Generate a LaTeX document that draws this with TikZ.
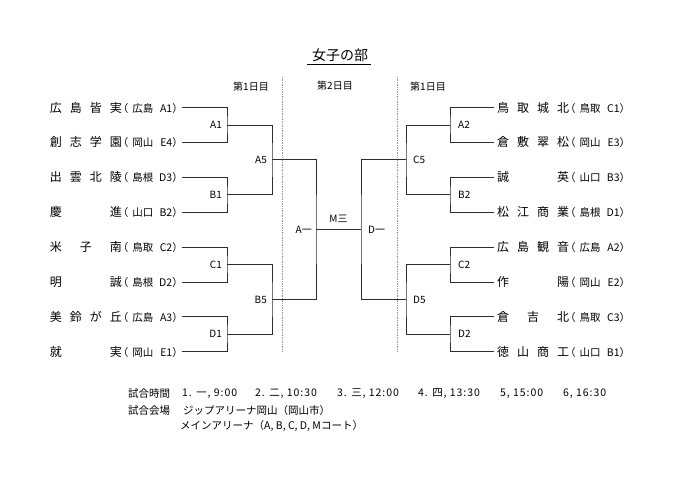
\documentclass[tikz,border=0pt]{standalone}
\usepackage{fontspec}
\setmainfont{Noto Sans CJK JP}
\newfontfamily\timefont[LetterSpace=9]{Noto Sans CJK JP}
\usepackage{tikz}
\usetikzlibrary{positioning, calc}
\definecolor{linegray}{RGB}{45,45,45}
\definecolor{dotgray}{RGB}{150,150,150}
\tikzstyle{bracket} = [linegray, line width=0.9pt]
\tikzstyle{daysep} = [dotgray, line width=0.7pt, densely dotted]
\tikzset{
  team/.style={inner xsep=3pt, inner ysep=0pt, font=\fontsize{12}{13}\selectfont},
  lbl/.style={inner sep=0pt, font=\fontsize{10}{11}\selectfont},
  day/.style={inner sep=0pt, font=\fontsize{10}{11}\selectfont},
  note/.style={inner sep=0pt, anchor=west, font=\fontsize{10.5}{12}\selectfont},
}
\newcommand{\school}[3]{\makebox[72pt][s]{#1}\makebox[57pt][s]{\fontsize{10.5}{11}\selectfont\kern-4pt（\kern4pt #2\hfill #3）\kern-4pt}}

\begin{document}
\begin{tikzpicture}[x=1pt, y=-1pt]
        \useasboundingbox (0,0) rectangle (680,481);
        % title
        \node[inner sep=0pt, font=\fontsize{14}{16}\selectfont] (title) at (340,55) {女子の部};
        \draw[line width=0.8pt] ([xshift=-5pt, yshift=-3pt]title.south west) -- ([xshift=3pt, yshift=-3pt]title.south east);
        \node[day] (dayL) at (251,87) {第1日目};
        \node[day] (dayM) at (335,86) {第2日目};
        \node[day] (dayR) at (428,87) {第1日目};
        % day separators
        \coordinate (sepLt) at (282,77);
        \coordinate (sepLb) at (282,352);
        \coordinate (sepRt) at (397,77);
        \coordinate (sepRb) at (397,352);
        \draw[daysep] (sepLt) -- (sepLb);
        \draw[daysep] (sepRt) -- (sepRb);
        % left teams
        \node[team, anchor=east] (tL1) at (182,107.5) {\school{広\hfill 島\hfill 皆\hfill 実}{広島}{A1}};
        \node[team, anchor=east] (tL2) at (182,142.4) {\school{創\hfill 志\hfill 学\hfill 園}{岡山}{E4}};
        \node[team, anchor=east] (tL3) at (182,177.3) {\school{出\hfill 雲\hfill 北\hfill 陵}{島根}{D3}};
        \node[team, anchor=east] (tL4) at (182,212.2) {\school{慶\hfill 進}{山口}{B2}};
        \node[team, anchor=east] (tL5) at (182,247.1) {\school{米\hfill 子\hfill 南}{鳥取}{C2}};
        \node[team, anchor=east] (tL6) at (182,282.0) {\school{明\hfill 誠}{島根}{D2}};
        \node[team, anchor=east] (tL7) at (182,316.9) {\school{美\hfill 鈴\hfill が\hfill 丘}{広島}{A3}};
        \node[team, anchor=east] (tL8) at (182,351.8) {\school{就\hfill 実}{岡山}{E1}};
        % right teams
        \node[team, anchor=west] (tR1) at (494,107.5) {\school{鳥\hfill 取\hfill 城\hfill 北}{鳥取}{C1}};
        \node[team, anchor=west] (tR2) at (494,142.4) {\school{倉\hfill 敷\hfill 翠\hfill 松}{岡山}{E3}};
        \node[team, anchor=west] (tR3) at (494,177.3) {\school{誠\hfill 英}{山口}{B3}};
        \node[team, anchor=west] (tR4) at (494,212.2) {\school{松\hfill 江\hfill 商\hfill 業}{島根}{D1}};
        \node[team, anchor=west] (tR5) at (494,247.1) {\school{広\hfill 島\hfill 観\hfill 音}{広島}{A2}};
        \node[team, anchor=west] (tR6) at (494,282.0) {\school{作\hfill 陽}{岡山}{E2}};
        \node[team, anchor=west] (tR7) at (494,316.9) {\school{倉\hfill 吉\hfill 北}{鳥取}{C3}};
        \node[team, anchor=west] (tR8) at (494,351.8) {\school{徳\hfill 山\hfill 商\hfill 工}{山口}{B1}};
        % junctions
        \coordinate (jA1) at (227,125);
        \coordinate (jB1) at (227,194.8);
        \coordinate (jC1) at (227,264.5);
        \coordinate (jD1) at (227,334.3);
        \coordinate (jA5) at (272,159.9);
        \coordinate (jB5) at (272,299.4);
        \coordinate (jAi) at (316,229.7);
        \coordinate (jDi) at (361,229.7);
        \coordinate (jC5) at (406,159.9);
        \coordinate (jD5) at (406,299.4);
        \coordinate (jA2) at (450,125);
        \coordinate (jB2) at (450,194.8);
        \coordinate (jC2) at (450,264.5);
        \coordinate (jD2) at (450,334.3);
        % left bracket
        \draw[bracket] (tL1.east) -| (jA1) |- (tL2.east);
        \draw[bracket] (tL3.east) -| (jB1) |- (tL4.east);
        \draw[bracket] (tL5.east) -| (jC1) |- (tL6.east);
        \draw[bracket] (tL7.east) -| (jD1) |- (tL8.east);
        \draw[bracket] (jA1) -| (jA5) |- (jB1);
        \draw[bracket] (jC1) -| (jB5) |- (jD1);
        \draw[bracket] (jA5) -| (jAi) |- (jB5);
        % final
        \draw[bracket] (jAi) -- (jDi);
        % right bracket
        \draw[bracket] (tR1.west) -| (jA2) |- (tR2.west);
        \draw[bracket] (tR3.west) -| (jB2) |- (tR4.west);
        \draw[bracket] (tR5.west) -| (jC2) |- (tR6.west);
        \draw[bracket] (tR7.west) -| (jD2) |- (tR8.west);
        \draw[bracket] (jA2) -| (jC5) |- (jB2);
        \draw[bracket] (jC2) -| (jD5) |- (jD2);
        \draw[bracket] (jC5) -| (jDi) |- (jD5);
        % game labels
        \node[lbl, left=5pt of jA1] (gA1) {A1};
        \node[lbl, left=5pt of jB1] (gB1) {B1};
        \node[lbl, left=5pt of jC1] (gC1) {C1};
        \node[lbl, left=5pt of jD1] (gD1) {D1};
        \node[lbl, left=5pt of jA5] (gA5) {A5};
        \node[lbl, left=5pt of jB5] (gB5) {B5};
        \node[lbl, left=4pt of jAi] (gAi) {A一};
        \node[lbl, right=7pt of jDi] (gDi) {D一};
        \node[lbl, right=7pt of jC5] (gC5) {C5};
        \node[lbl, right=7pt of jD5] (gD5) {D5};
        \node[lbl, right=8pt of jA2] (gA2) {A2};
        \node[lbl, right=8pt of jB2] (gB2) {B2};
        \node[lbl, right=8pt of jC2] (gC2) {C2};
        \node[lbl, right=8pt of jD2] (gD2) {D2};
        \node[lbl] (gM) at ($(jAi)!0.5!(jDi)+(0,-11)$) {M三};
        % notes
        \node[note] (timeH) at (128,394) {試合時間};
        \node[note] (times) at (182,394) {\timefont\makebox[73pt][l]{1. 一, 9:00}\makebox[82pt][l]{2. 二, 10:30}\makebox[81pt][l]{3. 三, 12:00}\makebox[82pt][l]{4. 四, 13:30}\makebox[63pt][l]{5, 15:00}6, 16:30};
        \node[note] (placeH) at (128,411) {試合会場};
        \node[note] (place1) at (183,411) {ジップアリーナ岡山（岡山市）};
        \node[note] (place2) at (180,426) {メインアリーナ（A, B, C, D, Mコート）};
\end{tikzpicture}
\end{document}
